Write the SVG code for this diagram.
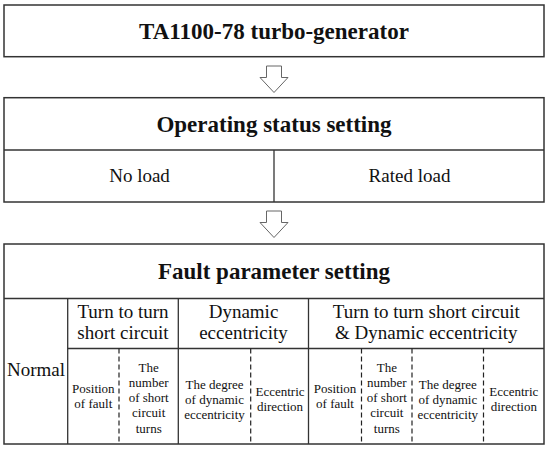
<svg xmlns="http://www.w3.org/2000/svg" width="550" height="450" viewBox="0 0 550 450">
<style>
.box{fill:#fff;stroke:#333;stroke-width:1.5}
.ln{stroke:#333;stroke-width:1.3;fill:none}
.dash{stroke:#222;stroke-width:1.2;stroke-dasharray:5,3;fill:none}
.arrow{fill:#fff;stroke:#666;stroke-width:1}
text{font-family:"Liberation Serif","DejaVu Serif",serif;fill:#111;text-anchor:middle}
.b{font-weight:bold;font-size:23px}
.m{font-size:19px}
.s{font-size:13px}
</style>
<rect width="550" height="450" fill="#fff"/>
<g id="connectors">
<path class="arrow" d="M266.5,66 H281.5 V77.5 H288 L274,92.5 L260,77.5 H266.5 Z"/>
<path class="arrow" d="M266.5,211 H281.5 V222.5 H288 L274,237.5 L260,222.5 H266.5 Z"/>
</g>
<g id="turbo-generator">
<rect class="box" x="4" y="5" width="540" height="51.7"/>
<text class="b" x="274" y="39">TA1100-78 turbo-generator</text>
</g>
<g id="operating-status">
<rect class="box" x="4" y="97.7" width="540" height="104.3"/>
<line class="ln" x1="4" y1="150" x2="544" y2="150"/>
<line class="ln" x1="274" y1="150" x2="274" y2="202"/>
<text class="b" x="274" y="131.5">Operating status setting</text>
<text class="m" x="139.5" y="182">No load</text>
<text class="m" x="409.5" y="182">Rated load</text>
</g>
<g id="fault-parameter">
<rect class="box" x="4" y="244" width="540" height="200"/>
<line class="ln" x1="4" y1="298.5" x2="544" y2="298.5"/>
<line class="ln" x1="67.7" y1="298.5" x2="67.7" y2="444"/>
<line class="ln" x1="178.3" y1="298.5" x2="178.3" y2="444"/>
<line class="ln" x1="308.5" y1="298.5" x2="308.5" y2="444"/>
<line class="ln" x1="67.7" y1="348.5" x2="544" y2="348.5"/>
<line class="dash" x1="119" y1="348.5" x2="119" y2="444"/>
<line class="dash" x1="250.7" y1="348.5" x2="250.7" y2="444"/>
<line class="dash" x1="361.5" y1="348.5" x2="361.5" y2="444"/>
<line class="dash" x1="412" y1="348.5" x2="412" y2="444"/>
<line class="dash" x1="483.5" y1="348.5" x2="483.5" y2="444"/>
<text class="b" x="274" y="278.5">Fault parameter setting</text>
<text class="m" x="36" y="376">Normal</text>
<text class="m" x="123" y="318.3">Turn to turn</text>
<text class="m" x="123" y="339">short circuit</text>
<text class="m" x="243.5" y="318.3">Dynamic</text>
<text class="m" x="243.5" y="339">eccentricity</text>
<text class="m" x="426.3" y="318.3">Turn to turn short circuit</text>
<text class="m" x="426.3" y="339">&amp; Dynamic eccentricity</text>
<text class="s" x="93.3" y="393.3">Position</text>
<text class="s" x="93.3" y="408.3">of fault</text>
<text class="s" x="148.7" y="372.3">The</text>
<text class="s" x="148.7" y="387.3">number</text>
<text class="s" x="148.7" y="402">of short</text>
<text class="s" x="148.7" y="417">circuit</text>
<text class="s" x="148.7" y="432.5">turns</text>
<text class="s" x="214.5" y="389">The degree</text>
<text class="s" x="214.5" y="404">of dynamic</text>
<text class="s" x="214.5" y="419">eccentricity</text>
<text class="s" x="280" y="396">Eccentric</text>
<text class="s" x="280" y="411">direction</text>
<text class="s" x="335" y="393.3">Position</text>
<text class="s" x="335" y="408.3">of fault</text>
<text class="s" x="386.8" y="372.3">The</text>
<text class="s" x="386.8" y="387.3">number</text>
<text class="s" x="386.8" y="402">of short</text>
<text class="s" x="386.8" y="417">circuit</text>
<text class="s" x="386.8" y="432.5">turns</text>
<text class="s" x="447.8" y="389">The degree</text>
<text class="s" x="447.8" y="404">of dynamic</text>
<text class="s" x="447.8" y="419">eccentricity</text>
<text class="s" x="513.8" y="396">Eccentric</text>
<text class="s" x="513.8" y="411">direction</text>
</g>
</svg>
